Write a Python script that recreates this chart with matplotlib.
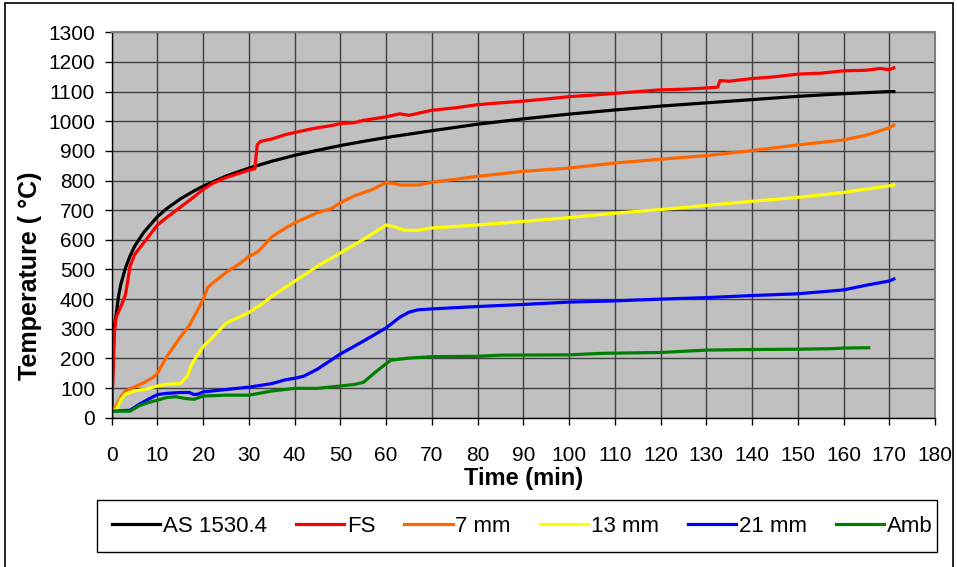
import matplotlib
matplotlib.use("Agg")
import matplotlib.pyplot as plt
from matplotlib.patches import Rectangle

plt.rcParams['font.family'] = ['Liberation Sans', 'DejaVu Sans']

# ---- data ----
t_as = [0, 0.5, 1, 1.5, 2, 3, 4, 5, 6, 7, 8, 10, 12, 15, 18, 20, 25, 30, 35, 40, 45, 50, 55, 60,
        70, 80, 90, 100, 110, 120, 130, 140, 150, 160, 170, 171]
T_as = [20, 300, 350, 410, 450, 505, 545, 578, 602, 625, 643, 678, 705, 738, 765, 781, 815, 842, 865, 885,
        902, 918, 932, 945, 968, 990, 1008, 1024, 1038, 1051, 1062, 1073, 1084, 1093, 1100, 1100]

t_fs = [0, 0.3, 0.6, 1, 2, 3, 3.5, 4, 5, 6, 7, 8, 10, 12, 15, 18, 20, 22, 25, 28, 30, 31.3, 31.8, 32.5,
        35, 38, 40, 43, 45, 48, 50, 53, 55, 58, 60, 63, 65, 70, 75, 80, 85, 90, 95, 100, 105, 110, 115,
        120, 125, 130, 132.5, 133, 135, 140, 145, 150, 155, 160, 165, 168, 170, 171]
T_fs = [20, 150, 290, 340, 375, 415, 460, 510, 550, 570, 590, 610, 650, 675, 710, 745, 770, 790, 810,
        825, 835, 840, 920, 932, 940, 955, 962, 972, 978, 985, 992, 995, 1003, 1010, 1015, 1025, 1020,
        1037, 1045, 1056, 1062, 1068, 1075, 1083, 1088, 1094, 1100, 1106, 1108, 1112, 1115, 1137, 1135,
        1144, 1150, 1159, 1162, 1170, 1172, 1178, 1174, 1180]

t_7 = [0, 1, 2, 3, 5, 7, 9, 10, 12, 15, 17, 20, 21, 23, 25, 28, 30, 32, 35, 38, 40, 45, 48, 50, 53, 57,
       60, 62, 63, 67, 70, 80, 90, 100, 110, 120, 130, 140, 150, 160, 165, 170, 171]
T_7 = [22, 40, 70, 90, 104, 118, 135, 150, 205, 272, 312, 398, 440, 465, 490, 520, 544, 560, 610, 640,
       657, 692, 705, 725, 748, 770, 793, 790, 785, 785, 794, 814, 831, 842, 859, 872, 884, 901, 920,
       937, 953, 978, 987]

t_13 = [0, 1, 2, 3, 5, 8, 10, 12, 15, 16.5, 17.5, 18.5, 20, 22, 25, 28, 30, 33, 35, 38, 40, 45, 50, 55,
        58, 60, 62, 64, 67, 70, 80, 90, 100, 110, 120, 130, 140, 150, 160, 170, 171]
T_13 = [22, 28, 60, 80, 90, 98, 107, 113, 115, 140, 180, 205, 240, 270, 319, 340, 355, 385, 409, 440,
        460, 511, 556, 601, 630, 650, 643, 632, 632, 640, 650, 662, 675, 690, 702, 716, 730, 743, 760,
        782, 785]

t_21 = [0, 4, 6, 8, 10, 12, 15, 17, 18, 19, 20, 25, 30, 35, 38, 40, 42, 45, 50, 55, 60, 63, 65, 67, 70,
        80, 90, 100, 110, 120, 130, 140, 150, 160, 165, 170, 171]
T_21 = [22, 25, 45, 62, 78, 82, 85, 85, 78, 80, 87, 95, 103, 115, 128, 133, 140, 164, 215, 258, 303,
        339, 356, 364, 367, 375, 382, 390, 394, 400, 405, 412, 418, 431, 447, 461, 468]

t_amb = [0, 4, 6, 8, 10, 12, 14, 16, 18, 20, 25, 30, 35, 40, 45, 50, 53, 55, 58, 61, 65, 70, 80, 85, 100,
         107, 120, 130, 140, 150, 158, 160, 165.5]
T_amb = [22, 22, 40, 51, 59, 68, 71, 65, 62, 73, 76, 76, 90, 99, 99, 107, 112, 119, 158, 194, 201, 206,
         207, 211, 212, 217, 220, 228, 230, 231, 233, 235, 236]

series = [
    ("AS 1530.4", t_as, T_as, "#000000"),
    ("FS", t_fs, T_fs, "#FF0000"),
    ("7 mm", t_7, T_7, "#FF6600"),
    ("13 mm", t_13, T_13, "#FFFF00"),
    ("21 mm", t_21, T_21, "#0000FF"),
    ("Amb", t_amb, T_amb, "#008000"),
]

x_ticks = list(range(0, 181, 10))
y_ticks = list(range(0, 1301, 100))

# ---- figure ----
W, H = 957, 567
fig = plt.figure(figsize=(W / 100, H / 100), dpi=100)
fig.patches.append(Rectangle((5 / W, -0.01), (953 - 5) / W, (H - 3) / H + 0.01,
                             transform=fig.transFigure, fill=False, edgecolor='black',
                             linewidth=1.2, zorder=0))
# legend frame
fig.patches.append(Rectangle((97 / W, 1 - 552 / H), (937 - 97) / W, (552 - 500) / H,
                             transform=fig.transFigure, fill=False, edgecolor='black',
                             linewidth=1.0, zorder=0))

ax = fig.add_axes([111.7 / W, 1 - 417.7 / H, (935 - 111.7) / W, (417.7 - 32.3) / H])
ax.set_facecolor('#C0C0C0')

for label, t, T, c in series:
    ax.plot(t, T, color=c, linewidth=2.3, label=label, solid_joinstyle='round')

ax.set_xlim(0, 180)
ax.set_ylim(0, 1300)
ax.set_xticks(x_ticks)
ax.set_yticks(y_ticks)
ax.grid(True, color='#404040', linewidth=1.0)
ax.set_axisbelow(True)

for s in ['top', 'right']:
    ax.spines[s].set_color('#808080')
    ax.spines[s].set_linewidth(1.5)
for s in ['left', 'bottom']:
    ax.spines[s].set_color('black')
    ax.spines[s].set_linewidth(1.0)

ax.tick_params(axis='both', labelsize=15, length=5, width=1, color='black', direction='out')
ax.tick_params(axis='x', pad=15.5)
ax.tick_params(axis='y', pad=7)

ax.set_xlabel("Time (min)", fontsize=17, fontweight='bold', labelpad=1.5)
ax.set_ylabel("Temperature ( °C)", fontsize=18, fontweight='bold')
ax.yaxis.set_label_coords(-0.085, 0.369)

leg = fig.legend(loc='center', bbox_to_anchor=(522 / W, 1 - 526 / H), ncol=6, fontsize=16,
                 frameon=False, handlelength=2.2,
                 handletextpad=0.1, columnspacing=1.3, borderpad=0.3)
for ln in leg.get_lines():
    ln.set_linewidth(2.3)

fig.savefig("out.png", dpi=100)
